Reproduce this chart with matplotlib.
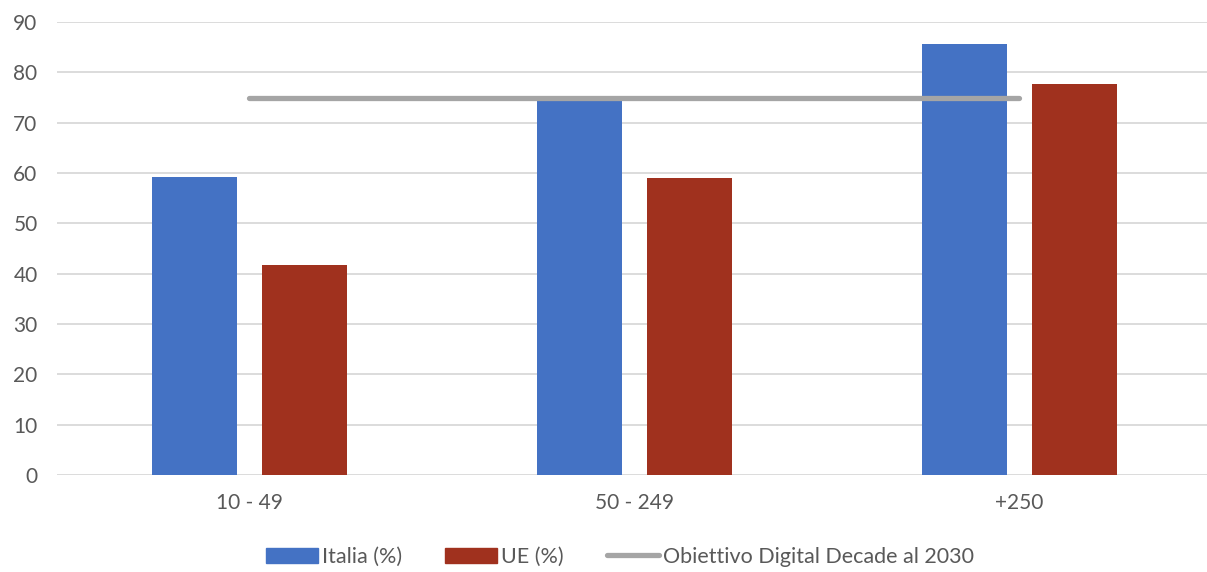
import numpy as np
import matplotlib.pyplot as plt
from matplotlib.patches import Patch
from matplotlib.lines import Line2D

plt.rcParams["font.family"] = ["Lato", "DejaVu Sans"]

categories = ["10 - 49", "50 - 249", "+250"]
italia = [59.2, 74.6, 85.7]
ue = [41.7, 59.0, 77.6]
target = [75, 75, 75]

blue = "#4472C4"
red = "#A0311E"
grey = "#A5A5A5"
text_col = "#595959"

fig = plt.figure(figsize=(12.07, 5.72), dpi=100)
ax = fig.add_axes([57 / 1207, 1 - 475 / 572, 1155 / 1207, 453 / 572])

x = np.arange(len(categories))
w = 0.222
off = 0.143
ax.bar(x - off, italia, w, color=blue, zorder=2)
ax.bar(x + off, ue, w, color=red, zorder=2)
ax.plot(x, target, color=grey, lw=3.8, solid_capstyle="round", zorder=3)

ax.set_xlim(-0.5, 2.5)
ax.set_ylim(0, 90)
ax.set_yticks(range(0, 91, 10))
ax.set_xticks(x)
ax.set_xticklabels(categories)
ax.yaxis.grid(True, color="#D9D9D9", lw=1.3, zorder=0)
ax.set_axisbelow(True)
for s in ax.spines.values():
    s.set_visible(False)
ax.tick_params(length=0, labelsize=15, labelcolor=text_col)
ax.tick_params(axis="x", pad=13)
ax.tick_params(axis="y", pad=14)

handles = [
    Patch(color=blue, label="Italia (%)"),
    Patch(color=red, label="UE (%)"),
    Line2D([], [], color=grey, lw=3.8, solid_capstyle="round",
           label="Obiettivo Digital Decade al 2030"),
]
leg = fig.legend(handles=handles, loc="center", bbox_to_anchor=(620 / 1207, 1 - 557 / 572),
                 ncol=3, frameon=False, fontsize=15.5, handlelength=2.4,
                 handleheight=0.7, handletextpad=0.2, columnspacing=2.0)
for t in leg.get_texts():
    t.set_color(text_col)

fig.savefig("out.png", dpi=100)
